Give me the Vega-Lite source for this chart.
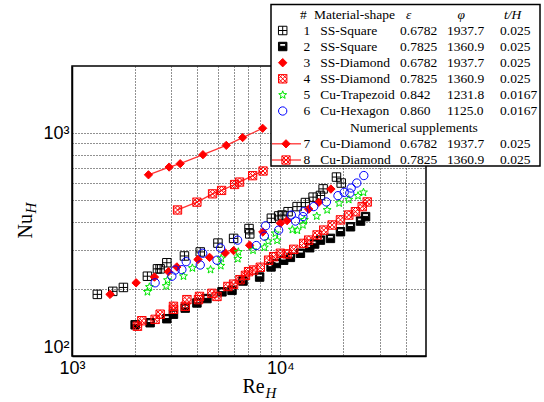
{
  "$schema": "https://vega.github.io/schema/vega-lite/v6.json",
  "width": 354,
  "height": 290,
  "autosize": {"type": "none"},
  "padding": {"left": 72, "top": 66, "right": 118, "bottom": 46},
  "config": {"view": {"stroke": "#000", "strokeWidth": 1.5}, "text": {"font": "Liberation Serif"}},
  "datasets": {
    "pts": [
      {"s":1,"re":1323,"nu":189},{"s":1,"re":1569,"nu":195},{"s":1,"re":1765,"nu":203},{"s":1,"re":2301,"nu":228},{"s":1,"re":2571,"nu":246},{"s":1,"re":2647,"nu":246},{"s":1,"re":2852,"nu":262},{"s":1,"re":3465,"nu":281},{"s":1,"re":4125,"nu":293},{"s":1,"re":5017,"nu":321},{"s":1,"re":5964,"nu":337},{"s":1,"re":7072,"nu":373},{"s":1,"re":7130,"nu":353},{"s":1,"re":9054,"nu":415},{"s":1,"re":9813,"nu":425},{"s":1,"re":10190,"nu":429},{"s":1,"re":10890,"nu":444},{"s":1,"re":12030,"nu":468},{"s":1,"re":13190,"nu":488},{"s":1,"re":14360,"nu":516},{"s":1,"re":15570,"nu":525},{"s":1,"re":16040,"nu":562},{"s":1,"re":18590,"nu":635},{"s":1,"re":19590,"nu":597},
      {"s":2,"re":2009,"nu":138},{"s":2,"re":2371,"nu":141},{"s":2,"re":2852,"nu":147},{"s":2,"re":3069,"nu":154},{"s":2,"re":3494,"nu":164},{"s":2,"re":3977,"nu":173},{"s":2,"re":4442,"nu":181},{"s":2,"re":5245,"nu":194},{"s":2,"re":5860,"nu":197},{"s":2,"re":6617,"nu":217},{"s":2,"re":7952,"nu":226},{"s":2,"re":9022,"nu":251},{"s":2,"re":9567,"nu":260},{"s":2,"re":10370,"nu":269},{"s":2,"re":11170,"nu":277},{"s":2,"re":12480,"nu":289},{"s":2,"re":13830,"nu":306},{"s":2,"re":14600,"nu":318},{"s":2,"re":15570,"nu":331},{"s":2,"re":17390,"nu":337},{"s":2,"re":19430,"nu":361},{"s":2,"re":21710,"nu":380},{"s":2,"re":24260,"nu":403},{"s":2,"re":25640,"nu":422},
      {"s":3,"re":1523,"nu":189},{"s":3,"re":2031,"nu":213},{"s":3,"re":2487,"nu":226},{"s":3,"re":2904,"nu":239},{"s":3,"re":3186,"nu":251},{"s":3,"re":4022,"nu":271},{"s":3,"re":4573,"nu":277},{"s":3,"re":5440,"nu":290},{"s":3,"re":5964,"nu":297},{"s":3,"re":7119,"nu":314},{"s":3,"re":8240,"nu":360},{"s":3,"re":10000,"nu":394},{"s":3,"re":10770,"nu":405},{"s":3,"re":13680,"nu":456},{"s":3,"re":15280,"nu":489},{"s":3,"re":17480,"nu":561},
      {"s":4,"re":2061,"nu":136},{"s":4,"re":2163,"nu":144},{"s":4,"re":2506,"nu":146},{"s":4,"re":2650,"nu":154},{"s":4,"re":3069,"nu":162},{"s":4,"re":3069,"nu":167},{"s":4,"re":3494,"nu":167},{"s":4,"re":3560,"nu":179},{"s":4,"re":4047,"nu":179},{"s":4,"re":4092,"nu":185},{"s":4,"re":4694,"nu":191},{"s":4,"re":4962,"nu":185},{"s":4,"re":5600,"nu":205},{"s":4,"re":5964,"nu":210},{"s":4,"re":6400,"nu":220},{"s":4,"re":6800,"nu":230},{"s":4,"re":7040,"nu":239},{"s":4,"re":7440,"nu":243},{"s":4,"re":8012,"nu":250},{"s":4,"re":8784,"nu":269},{"s":4,"re":9285,"nu":279},{"s":4,"re":10000,"nu":289},{"s":4,"re":10770,"nu":287},{"s":4,"re":11590,"nu":301},{"s":4,"re":12940,"nu":320},{"s":4,"re":13680,"nu":331},{"s":4,"re":15010,"nu":349},{"s":4,"re":16150,"nu":367},{"s":4,"re":17730,"nu":387},{"s":4,"re":19430,"nu":408},{"s":4,"re":21290,"nu":429},{"s":4,"re":22940,"nu":444},{"s":4,"re":24710,"nu":468},{"s":4,"re":26110,"nu":491},
      {"s":5,"re":2301,"nu":194},{"s":5,"re":2353,"nu":204},{"s":5,"re":2831,"nu":206},{"s":5,"re":2873,"nu":219},{"s":5,"re":3428,"nu":228},{"s":5,"re":3783,"nu":248},{"s":5,"re":4623,"nu":244},{"s":5,"re":5176,"nu":254},{"s":5,"re":5203,"nu":274},{"s":5,"re":6249,"nu":273},{"s":5,"re":6285,"nu":293},{"s":5,"re":7393,"nu":298},{"s":5,"re":8377,"nu":307},{"s":5,"re":8737,"nu":327},{"s":5,"re":9642,"nu":330},{"s":5,"re":9462,"nu":355},{"s":5,"re":11420,"nu":369},{"s":5,"re":12070,"nu":366},{"s":5,"re":12830,"nu":387},{"s":5,"re":13040,"nu":408},{"s":5,"re":14950,"nu":424},{"s":5,"re":16770,"nu":452},{"s":5,"re":19150,"nu":485},{"s":5,"re":21290,"nu":503},{"s":5,"re":23590,"nu":523},{"s":5,"re":25060,"nu":542},
      {"s":6,"re":2506,"nu":213},{"s":6,"re":3015,"nu":228},{"s":6,"re":3127,"nu":243},{"s":6,"re":3368,"nu":244},{"s":6,"re":3532,"nu":265},{"s":6,"re":4125,"nu":256},{"s":6,"re":4240,"nu":289},{"s":6,"re":4962,"nu":269},{"s":6,"re":5164,"nu":305},{"s":6,"re":6234,"nu":331},{"s":6,"re":7665,"nu":313},{"s":6,"re":8377,"nu":345},{"s":6,"re":8498,"nu":384},{"s":6,"re":9813,"nu":367},{"s":6,"re":11290,"nu":429},{"s":6,"re":11810,"nu":403},{"s":6,"re":12830,"nu":422},{"s":6,"re":12940,"nu":444},{"s":6,"re":14460,"nu":468},{"s":6,"re":16630,"nu":491},{"s":6,"re":18900,"nu":524},{"s":6,"re":20240,"nu":542},{"s":6,"re":21540,"nu":538},{"s":6,"re":21870,"nu":567},{"s":6,"re":23270,"nu":597},{"s":6,"re":25150,"nu":645},
      {"s":7,"re":2328,"nu":650},{"s":7,"re":2926,"nu":704},{"s":7,"re":3305,"nu":729},{"s":7,"re":4250,"nu":800},{"s":7,"re":5500,"nu":881},{"s":7,"re":6590,"nu":955},{"s":7,"re":8222,"nu":1051},
      {"s":8,"re":3210,"nu":452},{"s":8,"re":3977,"nu":490},{"s":8,"re":4727,"nu":534},{"s":8,"re":5224,"nu":553},{"s":8,"re":6030,"nu":588},{"s":8,"re":6370,"nu":603},{"s":8,"re":7360,"nu":644},{"s":8,"re":8260,"nu":676}
    ],
    "leg": [
      {"id":1,"name":"SS-Square","eps":"0.6782","phi":"1937.7","th":"0.025"},
      {"id":2,"name":"SS-Square","eps":"0.7825","phi":"1360.9","th":"0.025"},
      {"id":3,"name":"SS-Diamond","eps":"0.6782","phi":"1937.7","th":"0.025"},
      {"id":4,"name":"SS-Diamond","eps":"0.7825","phi":"1360.9","th":"0.025"},
      {"id":5,"name":"Cu-Trapezoid","eps":"0.842","phi":"1231.8","th":"0.0167"},
      {"id":6,"name":"Cu-Hexagon","eps":"0.860","phi":"1125.0","th":"0.0167"},
      {"id":7,"name":"Cu-Diamond","eps":"0.6782","phi":"1937.7","th":"0.025"},
      {"id":8,"name":"Cu-Diamond","eps":"0.7825","phi":"1360.9","th":"0.025"}
    ]
  },
  "resolve": {"scale": {"x": "independent", "y": "independent"}},
  "layer": [
    {
      "data": {"name": "pts"},
      "encoding": {
        "x": {"field": "re", "type": "quantitative",
          "scale": {"type": "log", "domain": [1000, 50000], "nice": false},
          "axis": {"title": "Re", "titleFont": "Liberation Serif", "titleFontSize": 20, "titleFontWeight": "normal", "titleColor": "#000", "titleX": 170, "titleY": 36.5, "titleAlign": "left", "titleBaseline": "alphabetic",
            "values": [1000,2000,3000,4000,5000,6000,7000,8000,9000,10000,20000,30000,40000],
            "labelExpr": "datum.value == 1000 ? '10³' : datum.value == 10000 ? '10⁴' : ''",
            "labelFont": "Liberation Sans", "labelFontSize": 18, "labelColor": "#000", "labelPadding": 3, "labelFlush": false, "labelOverlap": false,
            "ticks": false, "grid": true, "gridColor": "#222", "gridDash": [1, 2], "gridWidth": 1, "domainColor": "#000", "domainWidth": 1.5}},
        "y": {"field": "nu", "type": "quantitative",
          "scale": {"type": "log", "domain": [100, 2000], "nice": false},
          "axis": {"title": "Nu", "titleFont": "Liberation Serif", "titleFontSize": 20, "titleFontWeight": "normal", "titleColor": "#000", "titleAngle": -90, "titleX": -41, "titleY": 172, "titleAlign": "left", "titleBaseline": "alphabetic",
            "values": [100,200,300,400,500,600,700,800,900,1000],
            "labelExpr": "datum.value == 100 ? '10²' : datum.value == 1000 ? '10³' : ''",
            "labelFont": "Liberation Sans", "labelFontSize": 18, "labelColor": "#000", "labelPadding": 3, "labelFlush": true, "labelOverlap": false,
            "ticks": false, "grid": true, "gridColor": "#222", "gridDash": [1, 2], "gridWidth": 1, "domainColor": "#000", "domainWidth": 1.5}}
      },
      "layer": [
        {"transform": [{"filter": "datum.s >= 7"}],
         "mark": {"type": "line", "color": "#ff3333", "strokeWidth": 1.3},
         "encoding": {"detail": {"field": "s", "type": "nominal"}}},
        {"mark": {"type": "point", "opacity": 1, "strokeWidth": 1},
         "encoding": {
           "shape": {"field": "s", "type": "nominal", "legend": null, "scale": {"domain": [1,2,3,4,5,6,7,8], "range": ["M-1,-1H1V1H-1Z M0,-1V1 M-1,0H1", "M-1,-1H1V1H-1Z M-0.7,-0.7V-0.05H0.7V-0.7Z", "diamond", "M-1,-1H1V1H-1Z M-1,-1L1,1 M1,-1L-1,1 M0,-1L1,0L0,1L-1,0Z", "M0,-1L0.247,-0.34L0.951,-0.309L0.399,0.13L0.588,0.809L0,0.42L-0.588,0.809L-0.399,0.13L-0.951,-0.309L-0.247,-0.34Z", "circle", "diamond", "M-1,-1H1V1H-1Z M-1,-1L1,1 M1,-1L-1,1 M0,-1L1,0L0,1L-1,0Z"]}},
           "fill": {"field": "s", "type": "nominal", "legend": null, "scale": {"domain": [1,2,3,4,5,6,7,8], "range": ["transparent", "#000000", "#ff0000", "transparent", "transparent", "transparent", "#ff0000", "transparent"]}},
           "stroke": {"field": "s", "type": "nominal", "legend": null, "scale": {"domain": [1,2,3,4,5,6,7,8], "range": ["#000000", "#000000", "#ff0000", "#ff0000", "#00e600", "#0000ff", "#ff0000", "#ff0000"]}},
           "size": {"field": "s", "type": "ordinal", "legend": null, "scale": {"domain": [1,2,3,4,5,6,7,8], "range": [72, 68, 100, 72, 100, 72, 105, 80]}}
         }}
      ]
    },
    {
      "layer": [
        {"data": {"values": [{}]},
         "mark": {"type": "rect", "fill": "#ffffff", "stroke": "#000000", "strokeWidth": 1.5},
         "encoding": {
           "x": {"datum": 0, "type": "quantitative", "scale": {"type": "linear", "domain": [0,1,2,3,4,5,6,7,8,9,10,11,12,13,14,15,16], "range": [199,200,210.7,214,228,229,231.5,242,248.2,278,328,334,375,385.5,428,432,468], "nice": false, "zero": false},
             "axis": {"orient": "bottom", "domain": false, "ticks": false, "labels": false, "grid": false, "title": "H", "titleFont": "Liberation Serif", "titleFontStyle": "italic", "titleFontSize": 15, "titleFontWeight": "normal", "titleColor": "#000", "titleX": 193, "titleY": 41.5, "titleAlign": "left", "titleBaseline": "alphabetic"}},
           "x2": {"datum": 16},
           "y": {"datum": -1, "type": "quantitative", "scale": {"type": "linear", "domain": [-1,0,1,2,3,4,5,6,6.5,7,8,9], "range": [-61.5,-51.5,-35.5,-19.5,-3.3,12.8,29,45,61.5,77.8,94,100], "nice": false, "zero": false},
             "axis": {"orient": "left", "domain": false, "ticks": false, "labels": false, "grid": false, "title": "H", "titleFont": "Liberation Serif", "titleFontStyle": "italic", "titleFontSize": 15, "titleFontWeight": "normal", "titleColor": "#000", "titleAngle": -90, "titleX": -37, "titleY": 147, "titleAlign": "left", "titleBaseline": "alphabetic"}},
           "y2": {"datum": 9}
         }},
        {"data": {"name": "leg"},
         "transform": [{"filter": "datum.id >= 7"}],
         "mark": {"type": "rule", "color": "#ff3333", "strokeWidth": 1.3},
         "encoding": {
           "x": {"datum": 1, "type": "quantitative", "scale": {"type": "linear", "domain": [0,1,2,3,4,5,6,7,8,9,10,11,12,13,14,15,16], "range": [199,200,210.7,214,228,229,231.5,242,248.2,278,328,334,375,385.5,428,432,468], "nice": false, "zero": false},
             "axis": {"orient": "bottom", "domain": false, "ticks": false, "labels": false, "grid": false, "title": "H", "titleFont": "Liberation Serif", "titleFontStyle": "italic", "titleFontSize": 15, "titleFontWeight": "normal", "titleColor": "#000", "titleX": 193, "titleY": 41.5, "titleAlign": "left", "titleBaseline": "alphabetic"}},
           "x2": {"datum": 5},
           "y": {"field": "id", "type": "quantitative", "scale": {"type": "linear", "domain": [-1,0,1,2,3,4,5,6,6.5,7,8,9], "range": [-61.5,-51.5,-35.5,-19.5,-3.3,12.8,29,45,61.5,77.8,94,100], "nice": false, "zero": false},
             "axis": {"orient": "left", "domain": false, "ticks": false, "labels": false, "grid": false, "title": "H", "titleFont": "Liberation Serif", "titleFontStyle": "italic", "titleFontSize": 15, "titleFontWeight": "normal", "titleColor": "#000", "titleAngle": -90, "titleX": -37, "titleY": 147, "titleAlign": "left", "titleBaseline": "alphabetic"}}
         }},
        {"data": {"name": "leg"},
         "transform": [{"filter": "datum.id <= 6"}],
         "mark": {"type": "point", "opacity": 1, "strokeWidth": 1},
         "encoding": {
           "x": {"datum": 2, "type": "quantitative", "scale": {"type": "linear", "domain": [0,1,2,3,4,5,6,7,8,9,10,11,12,13,14,15,16], "range": [199,200,210.7,214,228,229,231.5,242,248.2,278,328,334,375,385.5,428,432,468], "nice": false, "zero": false},
             "axis": {"orient": "bottom", "domain": false, "ticks": false, "labels": false, "grid": false, "title": "H", "titleFont": "Liberation Serif", "titleFontStyle": "italic", "titleFontSize": 15, "titleFontWeight": "normal", "titleColor": "#000", "titleX": 193, "titleY": 41.5, "titleAlign": "left", "titleBaseline": "alphabetic"}},
           "y": {"field": "id", "type": "quantitative", "scale": {"type": "linear", "domain": [-1,0,1,2,3,4,5,6,6.5,7,8,9], "range": [-61.5,-51.5,-35.5,-19.5,-3.3,12.8,29,45,61.5,77.8,94,100], "nice": false, "zero": false},
             "axis": {"orient": "left", "domain": false, "ticks": false, "labels": false, "grid": false, "title": "H", "titleFont": "Liberation Serif", "titleFontStyle": "italic", "titleFontSize": 15, "titleFontWeight": "normal", "titleColor": "#000", "titleAngle": -90, "titleX": -37, "titleY": 147, "titleAlign": "left", "titleBaseline": "alphabetic"}},
           "shape": {"field": "id", "type": "nominal", "legend": null},
           "fill": {"field": "id", "type": "nominal", "legend": null},
           "stroke": {"field": "id", "type": "nominal", "legend": null},
           "size": {"field": "id", "type": "ordinal", "legend": null}
         }},
        {"data": {"name": "leg"},
         "transform": [{"filter": "datum.id >= 7"}],
         "mark": {"type": "point", "opacity": 1, "strokeWidth": 1},
         "encoding": {
           "x": {"datum": 3, "type": "quantitative", "scale": {"type": "linear", "domain": [0,1,2,3,4,5,6,7,8,9,10,11,12,13,14,15,16], "range": [199,200,210.7,214,228,229,231.5,242,248.2,278,328,334,375,385.5,428,432,468], "nice": false, "zero": false},
             "axis": {"orient": "bottom", "domain": false, "ticks": false, "labels": false, "grid": false, "title": "H", "titleFont": "Liberation Serif", "titleFontStyle": "italic", "titleFontSize": 15, "titleFontWeight": "normal", "titleColor": "#000", "titleX": 193, "titleY": 41.5, "titleAlign": "left", "titleBaseline": "alphabetic"}},
           "y": {"field": "id", "type": "quantitative", "scale": {"type": "linear", "domain": [-1,0,1,2,3,4,5,6,6.5,7,8,9], "range": [-61.5,-51.5,-35.5,-19.5,-3.3,12.8,29,45,61.5,77.8,94,100], "nice": false, "zero": false},
             "axis": {"orient": "left", "domain": false, "ticks": false, "labels": false, "grid": false, "title": "H", "titleFont": "Liberation Serif", "titleFontStyle": "italic", "titleFontSize": 15, "titleFontWeight": "normal", "titleColor": "#000", "titleAngle": -90, "titleX": -37, "titleY": 147, "titleAlign": "left", "titleBaseline": "alphabetic"}},
           "shape": {"field": "id", "type": "nominal", "legend": null},
           "fill": {"field": "id", "type": "nominal", "legend": null},
           "stroke": {"field": "id", "type": "nominal", "legend": null},
           "size": {"field": "id", "type": "ordinal", "legend": null}
         }},
        {"data": {"name": "leg"},
         "mark": {"type": "text", "align": "left", "baseline": "middle", "font": "Liberation Serif", "fontSize": 13.5, "color": "#000"},
         "encoding": {
           "x": {"datum": 6, "type": "quantitative", "scale": {"type": "linear", "domain": [0,1,2,3,4,5,6,7,8,9,10,11,12,13,14,15,16], "range": [199,200,210.7,214,228,229,231.5,242,248.2,278,328,334,375,385.5,428,432,468], "nice": false, "zero": false},
             "axis": {"orient": "bottom", "domain": false, "ticks": false, "labels": false, "grid": false, "title": "H", "titleFont": "Liberation Serif", "titleFontStyle": "italic", "titleFontSize": 15, "titleFontWeight": "normal", "titleColor": "#000", "titleX": 193, "titleY": 41.5, "titleAlign": "left", "titleBaseline": "alphabetic"}},
           "y": {"field": "id", "type": "quantitative", "scale": {"type": "linear", "domain": [-1,0,1,2,3,4,5,6,6.5,7,8,9], "range": [-61.5,-51.5,-35.5,-19.5,-3.3,12.8,29,45,61.5,77.8,94,100], "nice": false, "zero": false},
             "axis": {"orient": "left", "domain": false, "ticks": false, "labels": false, "grid": false, "title": "H", "titleFont": "Liberation Serif", "titleFontStyle": "italic", "titleFontSize": 15, "titleFontWeight": "normal", "titleColor": "#000", "titleAngle": -90, "titleX": -37, "titleY": 147, "titleAlign": "left", "titleBaseline": "alphabetic"}},
           "text": {"field": "id", "type": "nominal"}
         }},
        {"data": {"name": "leg"},
         "mark": {"type": "text", "align": "left", "baseline": "middle", "font": "Liberation Serif", "fontSize": 13.5, "color": "#000"},
         "encoding": {
           "x": {"datum": 8, "type": "quantitative", "scale": {"type": "linear", "domain": [0,1,2,3,4,5,6,7,8,9,10,11,12,13,14,15,16], "range": [199,200,210.7,214,228,229,231.5,242,248.2,278,328,334,375,385.5,428,432,468], "nice": false, "zero": false},
             "axis": {"orient": "bottom", "domain": false, "ticks": false, "labels": false, "grid": false, "title": "H", "titleFont": "Liberation Serif", "titleFontStyle": "italic", "titleFontSize": 15, "titleFontWeight": "normal", "titleColor": "#000", "titleX": 193, "titleY": 41.5, "titleAlign": "left", "titleBaseline": "alphabetic"}},
           "y": {"field": "id", "type": "quantitative", "scale": {"type": "linear", "domain": [-1,0,1,2,3,4,5,6,6.5,7,8,9], "range": [-61.5,-51.5,-35.5,-19.5,-3.3,12.8,29,45,61.5,77.8,94,100], "nice": false, "zero": false},
             "axis": {"orient": "left", "domain": false, "ticks": false, "labels": false, "grid": false, "title": "H", "titleFont": "Liberation Serif", "titleFontStyle": "italic", "titleFontSize": 15, "titleFontWeight": "normal", "titleColor": "#000", "titleAngle": -90, "titleX": -37, "titleY": 147, "titleAlign": "left", "titleBaseline": "alphabetic"}},
           "text": {"field": "name", "type": "nominal"}
         }},
        {"data": {"name": "leg"},
         "mark": {"type": "text", "align": "left", "baseline": "middle", "font": "Liberation Serif", "fontSize": 13.5, "color": "#000"},
         "encoding": {
           "x": {"datum": 10, "type": "quantitative", "scale": {"type": "linear", "domain": [0,1,2,3,4,5,6,7,8,9,10,11,12,13,14,15,16], "range": [199,200,210.7,214,228,229,231.5,242,248.2,278,328,334,375,385.5,428,432,468], "nice": false, "zero": false},
             "axis": {"orient": "bottom", "domain": false, "ticks": false, "labels": false, "grid": false, "title": "H", "titleFont": "Liberation Serif", "titleFontStyle": "italic", "titleFontSize": 15, "titleFontWeight": "normal", "titleColor": "#000", "titleX": 193, "titleY": 41.5, "titleAlign": "left", "titleBaseline": "alphabetic"}},
           "y": {"field": "id", "type": "quantitative", "scale": {"type": "linear", "domain": [-1,0,1,2,3,4,5,6,6.5,7,8,9], "range": [-61.5,-51.5,-35.5,-19.5,-3.3,12.8,29,45,61.5,77.8,94,100], "nice": false, "zero": false},
             "axis": {"orient": "left", "domain": false, "ticks": false, "labels": false, "grid": false, "title": "H", "titleFont": "Liberation Serif", "titleFontStyle": "italic", "titleFontSize": 15, "titleFontWeight": "normal", "titleColor": "#000", "titleAngle": -90, "titleX": -37, "titleY": 147, "titleAlign": "left", "titleBaseline": "alphabetic"}},
           "text": {"field": "eps", "type": "nominal"}
         }},
        {"data": {"name": "leg"},
         "mark": {"type": "text", "align": "left", "baseline": "middle", "font": "Liberation Serif", "fontSize": 13.5, "color": "#000"},
         "encoding": {
           "x": {"datum": 12, "type": "quantitative", "scale": {"type": "linear", "domain": [0,1,2,3,4,5,6,7,8,9,10,11,12,13,14,15,16], "range": [199,200,210.7,214,228,229,231.5,242,248.2,278,328,334,375,385.5,428,432,468], "nice": false, "zero": false},
             "axis": {"orient": "bottom", "domain": false, "ticks": false, "labels": false, "grid": false, "title": "H", "titleFont": "Liberation Serif", "titleFontStyle": "italic", "titleFontSize": 15, "titleFontWeight": "normal", "titleColor": "#000", "titleX": 193, "titleY": 41.5, "titleAlign": "left", "titleBaseline": "alphabetic"}},
           "y": {"field": "id", "type": "quantitative", "scale": {"type": "linear", "domain": [-1,0,1,2,3,4,5,6,6.5,7,8,9], "range": [-61.5,-51.5,-35.5,-19.5,-3.3,12.8,29,45,61.5,77.8,94,100], "nice": false, "zero": false},
             "axis": {"orient": "left", "domain": false, "ticks": false, "labels": false, "grid": false, "title": "H", "titleFont": "Liberation Serif", "titleFontStyle": "italic", "titleFontSize": 15, "titleFontWeight": "normal", "titleColor": "#000", "titleAngle": -90, "titleX": -37, "titleY": 147, "titleAlign": "left", "titleBaseline": "alphabetic"}},
           "text": {"field": "phi", "type": "nominal"}
         }},
        {"data": {"name": "leg"},
         "mark": {"type": "text", "align": "left", "baseline": "middle", "font": "Liberation Serif", "fontSize": 13.5, "color": "#000"},
         "encoding": {
           "x": {"datum": 14, "type": "quantitative", "scale": {"type": "linear", "domain": [0,1,2,3,4,5,6,7,8,9,10,11,12,13,14,15,16], "range": [199,200,210.7,214,228,229,231.5,242,248.2,278,328,334,375,385.5,428,432,468], "nice": false, "zero": false},
             "axis": {"orient": "bottom", "domain": false, "ticks": false, "labels": false, "grid": false, "title": "H", "titleFont": "Liberation Serif", "titleFontStyle": "italic", "titleFontSize": 15, "titleFontWeight": "normal", "titleColor": "#000", "titleX": 193, "titleY": 41.5, "titleAlign": "left", "titleBaseline": "alphabetic"}},
           "y": {"field": "id", "type": "quantitative", "scale": {"type": "linear", "domain": [-1,0,1,2,3,4,5,6,6.5,7,8,9], "range": [-61.5,-51.5,-35.5,-19.5,-3.3,12.8,29,45,61.5,77.8,94,100], "nice": false, "zero": false},
             "axis": {"orient": "left", "domain": false, "ticks": false, "labels": false, "grid": false, "title": "H", "titleFont": "Liberation Serif", "titleFontStyle": "italic", "titleFontSize": 15, "titleFontWeight": "normal", "titleColor": "#000", "titleAngle": -90, "titleX": -37, "titleY": 147, "titleAlign": "left", "titleBaseline": "alphabetic"}},
           "text": {"field": "th", "type": "nominal"}
         }},
        {"data": {"values": [{"t": "#", "c": 4, "r": 0}, {"t": "Material-shape", "c": 7, "r": 0}, {"t": "Numerical supplements", "c": 9, "r": 6.5}]},
         "mark": {"type": "text", "align": "left", "baseline": "middle", "font": "Liberation Serif", "fontSize": 13.5, "color": "#000"},
         "encoding": {
           "x": {"field": "c", "type": "quantitative", "scale": {"type": "linear", "domain": [0,1,2,3,4,5,6,7,8,9,10,11,12,13,14,15,16], "range": [199,200,210.7,214,228,229,231.5,242,248.2,278,328,334,375,385.5,428,432,468], "nice": false, "zero": false},
             "axis": {"orient": "bottom", "domain": false, "ticks": false, "labels": false, "grid": false, "title": "H", "titleFont": "Liberation Serif", "titleFontStyle": "italic", "titleFontSize": 15, "titleFontWeight": "normal", "titleColor": "#000", "titleX": 193, "titleY": 41.5, "titleAlign": "left", "titleBaseline": "alphabetic"}},
           "y": {"field": "r", "type": "quantitative", "scale": {"type": "linear", "domain": [-1,0,1,2,3,4,5,6,6.5,7,8,9], "range": [-61.5,-51.5,-35.5,-19.5,-3.3,12.8,29,45,61.5,77.8,94,100], "nice": false, "zero": false},
             "axis": {"orient": "left", "domain": false, "ticks": false, "labels": false, "grid": false, "title": "H", "titleFont": "Liberation Serif", "titleFontStyle": "italic", "titleFontSize": 15, "titleFontWeight": "normal", "titleColor": "#000", "titleAngle": -90, "titleX": -37, "titleY": 147, "titleAlign": "left", "titleBaseline": "alphabetic"}},
           "text": {"field": "t", "type": "nominal"}
         }},
        {"data": {"values": [{"t": "ε", "c": 11, "r": 0}, {"t": "φ", "c": 13, "r": 0}, {"t": "t/H", "c": 15, "r": 0}]},
         "mark": {"type": "text", "align": "left", "baseline": "middle", "font": "Liberation Serif", "fontSize": 13.5, "fontStyle": "italic", "color": "#000"},
         "encoding": {
           "x": {"field": "c", "type": "quantitative", "scale": {"type": "linear", "domain": [0,1,2,3,4,5,6,7,8,9,10,11,12,13,14,15,16], "range": [199,200,210.7,214,228,229,231.5,242,248.2,278,328,334,375,385.5,428,432,468], "nice": false, "zero": false},
             "axis": {"orient": "bottom", "domain": false, "ticks": false, "labels": false, "grid": false, "title": "H", "titleFont": "Liberation Serif", "titleFontStyle": "italic", "titleFontSize": 15, "titleFontWeight": "normal", "titleColor": "#000", "titleX": 193, "titleY": 41.5, "titleAlign": "left", "titleBaseline": "alphabetic"}},
           "y": {"field": "r", "type": "quantitative", "scale": {"type": "linear", "domain": [-1,0,1,2,3,4,5,6,6.5,7,8,9], "range": [-61.5,-51.5,-35.5,-19.5,-3.3,12.8,29,45,61.5,77.8,94,100], "nice": false, "zero": false},
             "axis": {"orient": "left", "domain": false, "ticks": false, "labels": false, "grid": false, "title": "H", "titleFont": "Liberation Serif", "titleFontStyle": "italic", "titleFontSize": 15, "titleFontWeight": "normal", "titleColor": "#000", "titleAngle": -90, "titleX": -37, "titleY": 147, "titleAlign": "left", "titleBaseline": "alphabetic"}},
           "text": {"field": "t", "type": "nominal"}
         }}
      ]
    }
  ]
}
